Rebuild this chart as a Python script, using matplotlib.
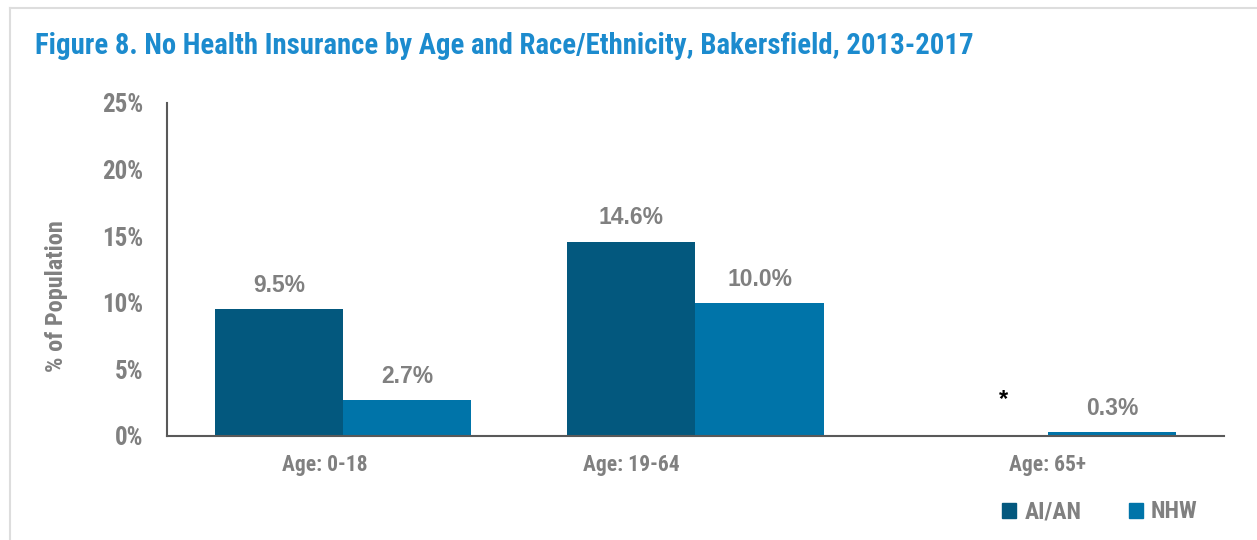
import numpy as np
import matplotlib
matplotlib.use("Agg")
import matplotlib.pyplot as plt
from matplotlib import font_manager
from matplotlib.patches import Patch
from matplotlib.lines import Line2D
import matplotlib.transforms as mtransforms

# data
categories = ["Age: 0-18", "Age: 19-64", "Age: 65+"]
series_names = ["AI/AN", "NHW"]
aian = [9.5, 14.6, np.nan]   # * = suppressed for 65+
nhw = [2.7, 10.0, 0.3]
yticks = [0, 5, 10, 15, 20, 25]

title = "Figure 8. No Health Insurance by Age and Race/Ethnicity, Bakersfield, 2013-2017"

# narrow font if one is around
names = {f.name for f in font_manager.fontManager.ttflist}
narrow = "DejaVu Sans"
for cand in ["Roboto Condensed", "Liberation Sans Narrow", "Arial Narrow"]:
    if cand in names:
        narrow = cand
        break
wide = "Liberation Sans" if "Liberation Sans" in names else "DejaVu Sans"
plt.rcParams["font.family"] = [narrow, "DejaVu Sans"]
plt.rcParams["font.weight"] = "bold"
plt.rcParams["axes.labelweight"] = "bold"

c_dark = "#03587E"
c_light = "#0074A9"
c_gray = "#808080"
c_title = "#1C8BCE"

fig = plt.figure(figsize=(12.57, 5.4), dpi=100)
ax = fig.add_axes([0.1329, 0.1926, 0.8408, 0.6167])

x = np.arange(len(categories))
w = 0.3635
ax.bar(x - w / 2, aian, w, color=c_dark, label=series_names[0])
ax.bar(x + w / 2, nhw, w, color=c_light, label=series_names[1])

lab_kw = dict(textcoords="offset points", ha="center", va="center", fontweight="bold",
              fontsize=16.5, color=c_gray, family=[wide, "DejaVu Sans"])
for xi, v in zip(x - w / 2, aian):
    if np.isnan(v):
        ax.annotate("*", (xi, 0), xytext=(14, 26), textcoords="offset points",
                    ha="center", va="center", fontsize=17, color="black",
                    fontweight="bold", family=[wide, "DejaVu Sans"])
    else:
        ax.annotate(f"{v:.1f}%", (xi, v), xytext=(0, 17), **lab_kw)
for xi, v in zip(x + w / 2, nhw):
    ax.annotate(f"{v:.1f}%", (xi, v), xytext=(0, 17), **lab_kw)

ax.set_xlim(-0.5, 2.5)
ax.set_ylim(0, 25)
ax.set_yticks(yticks)
ax.set_yticklabels([f"{t}%" for t in yticks], fontsize=18, color=c_gray)
ax.set_xticks(x)
ax.set_xticklabels(categories, fontsize=15.5, color=c_gray)
ax.tick_params(axis="both", length=0)
ax.tick_params(axis="y", pad=17)
ax.tick_params(axis="x", pad=13)
# shift category labels to where they sit in the source
shifts = [-18, -64, 0]
for lab, dx in zip(ax.get_xticklabels(), shifts):
    lab.set_transform(lab.get_transform() + mtransforms.ScaledTranslation(dx / 100, 0, fig.dpi_scale_trans))

for s in ["top", "right"]:
    ax.spines[s].set_visible(False)
for s in ["left", "bottom"]:
    ax.spines[s].set_color("#595959")
    ax.spines[s].set_linewidth(1.5)

ax.set_ylabel("% of Population", fontsize=17.5, color=c_gray)
ax.yaxis.set_label_coords(-0.094, 0.42)

fig.text(0.028, 0.915, title, fontsize=20.7, color=c_title, ha="left", va="center")

handles = [Patch(color=c_dark), Patch(color=c_light)]
leg = fig.legend(handles, series_names, loc="center", bbox_to_anchor=(0.875, 0.052),
                 ncol=2, frameon=False, fontsize=17, handlelength=0.6, handleheight=0.6,
                 handletextpad=0.35, columnspacing=2.0)
for t in leg.get_texts():
    t.set_color(c_gray)

# outer frame of the report box
fig.add_artist(Line2D([0.008, 0.008], [0, 0.985], transform=fig.transFigure, color="#DDDDDD", lw=1.5))
fig.add_artist(Line2D([0.008, 1.0], [0.985, 0.985], transform=fig.transFigure, color="#DDDDDD", lw=1.5))

fig.savefig("out.png", dpi=100)
